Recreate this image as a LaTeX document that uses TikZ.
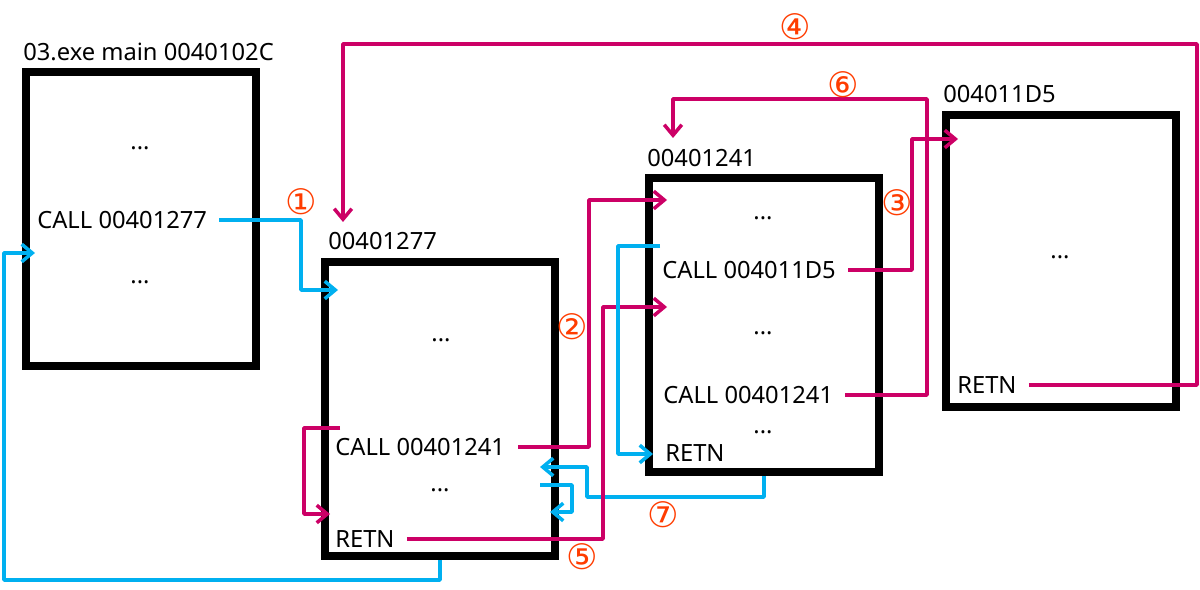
\documentclass[tikz,border=0pt]{standalone}
\usepackage{fontspec}
\setmainfont{Noto Sans}
\newfontfamily\circfont{DejaVu Sans}
\usetikzlibrary{arrows.meta,calc}
\definecolor{cmag}{RGB}{204,0,102}
\definecolor{cblue}{RGB}{0,176,240}
\definecolor{cnum}{RGB}{255,60,0}
\tikzset{
  boxst/.style={draw=black,line width=4.3pt,minimum width=230*0.02cm,minimum height=294*0.02cm,inner sep=0pt},
  txt/.style={font=\fontsize{13.5pt}{16pt}\selectfont,inner sep=0pt,anchor=west},
  dots/.style={font=\fontsize{13.5pt}{16pt}\selectfont,inner sep=0pt,anchor=center},
  num/.style={font=\circfont\fontsize{20pt}{22pt}\selectfont,text=cnum,inner sep=0pt},
  conn/.style={line width=2pt,line join=round,-{Straight Barb[length=6pt,width=10pt,line width=2pt]}},
  mline/.style={conn,draw=cmag},
  bline/.style={conn,draw=cblue},
}
\begin{document}
\begin{tikzpicture}[x=0.02cm,y=-0.02cm]
\useasboundingbox (0,0) rectangle (1200,590);
% boxes
\node[boxst] (b1) at (141,219) {};
\node[boxst] (b2) at (440,409) {};
\node[boxst] (b3) at (764,325) {};
\node[boxst,minimum height=292*0.02cm] (b4) at (1061,261) {};
% titles
\node[txt] (t1) at (23,52) {03.exe main 0040102C};
\node[txt] (t2) at (328,241) {00401277};
\node[txt] (t3) at (647,158) {00401241};
\node[txt] (t4) at (943,94) {004011D5};
% box 1
\node[dots] (d1a) at (140,148) {...};
\node[txt] (call1) at (37,220) {CALL 00401277};
\node[dots] (d1b) at (140,282) {...};
% box 2
\node[dots] (d2a) at (441,340) {...};
\node[txt] (call2) at (335,447) {CALL 00401241};
\node[dots] (d2b) at (440,490) {...};
\node[txt] (ret2) at (335,539) {RETN};
% box 3
\node[dots] (d3a) at (763,218) {...};
\node[txt] (call3a) at (662,270) {CALL 004011D5};
\node[dots] (d3b) at (763,333) {...};
\node[txt] (call3b) at (663,395) {CALL 00401241};
\node[dots] (d3c) at (763,432) {...};
\node[txt] (ret3) at (665,453) {RETN};
% box 4
\node[dots] (d4a) at (1060,257) {...};
\node[txt] (ret4) at (957,385) {RETN};
% arrow end points
\coordinate (e1) at (338,290);
\coordinate (e0) at (35,253);
\coordinate (eloop) at (330,514);
\coordinate (sloop) at (340,428);
\coordinate (s7b) at (540,485);
\coordinate (e7b) at (550,512);
\coordinate (e7) at (540,467);
\coordinate (e5) at (667,307);
\coordinate (e2) at (667,200);
\coordinate (s3b) at (660,246);
\coordinate (e3b) at (653,454);
\coordinate (e3) at (958,139);
\coordinate (e6) at (673,138);
\coordinate (e4) at (343,222);
% connectors
\draw[bline] ($(call1.east)+(12,0)$) -- (301,220) |- (e1);
\draw[bline] (b2.south) -- (440,580) -| (4,253) -- (e0);
\draw[mline] (sloop) -| (304,514) -- (eloop);
\draw[bline] (s7b) -| (572,512) -- (e7b);
\draw[bline] (b3.south) |- (587,497) |- (e7);
\draw[mline] ($(ret2.east)+(12,0)$) -| (603,307) -- (e5);
\draw[mline] ($(call2.east)+(13,0)$) -| (589,200) -- (e2);
\draw[bline] (s3b) -| (618,454) -- (e3b);
\draw[mline] ($(call3a.east)+(12,0)$) -| (912,139) -- (e3);
\draw[mline] ($(call3b.east)+(12,0)$) -| (927,99) -| (e6);
\draw[mline] ($(ret4.east)+(12,0)$) -| (1197,44) -| (e4);
% numbers
\node[num] (n1) at (301,202) {①};
\node[num] (n2) at (572,327) {②};
\node[num] (n3) at (897,203) {③};
\node[num] (n4) at (795,27) {④};
\node[num] (n5) at (582,557) {⑤};
\node[num] (n6) at (843,85) {⑥};
\node[num] (n7) at (663,515) {⑦};
\end{tikzpicture}
\end{document}
